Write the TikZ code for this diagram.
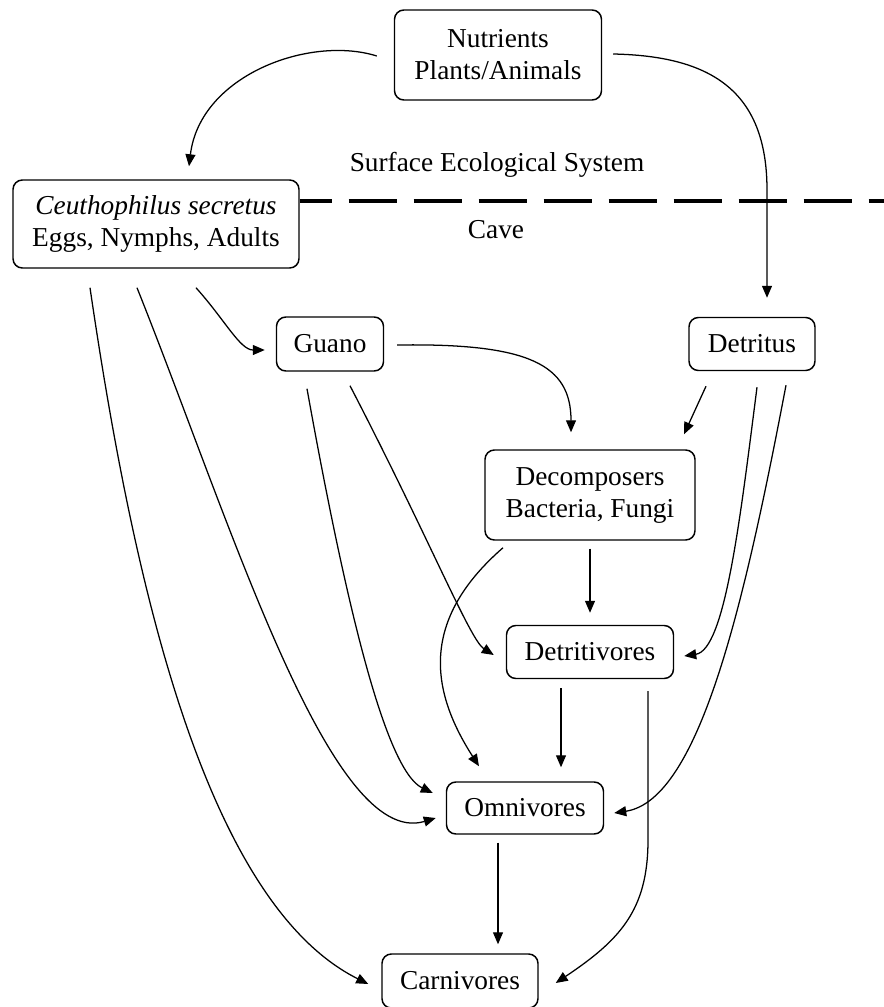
\documentclass[tikz,border=0pt]{standalone}
\usepackage{fontspec}
\setmainfont{Liberation Serif}
\usetikzlibrary{arrows.meta,calc}
\begin{document}
\begin{tikzpicture}[x=0.75pt,y=-0.75pt,
  box/.style={draw,line width=1.1pt,rounded corners=7pt,align=center,inner sep=0pt,
    font=\fontsize{20.5}{24}\selectfont},
  arr/.style={line width=0.95pt,-{Triangle[length=9pt,width=7.5pt]}},
  lbl/.style={font=\fontsize{20.5}{24}\selectfont},
  cavedash/.style={line width=3pt,dash pattern=on 36pt off 12.75pt,dash phase=12pt}]
\useasboundingbox (0,0) rectangle (884,1007);

\node[box,minimum width=155.25pt,minimum height=67.5pt] (nut) at (498,55) {Nutrients\\Plants/Animals};
\node[box,minimum width=214.5pt,minimum height=66pt] (ceu) at (156,224) {\textit{Ceuthophilus secretus}\\Eggs, Nymphs, Adults};
\node[box,minimum width=80.25pt,minimum height=40.5pt] (gua) at (330,344) {Guano};
\node[box,minimum width=94.5pt,minimum height=39.75pt] (det) at (752,344) {Detritus};
\node[box,minimum width=157.5pt,minimum height=67.5pt] (dec) at (590,495) {Decomposers\\Bacteria,\ Fungi};
\node[box,minimum width=125.25pt,minimum height=39.75pt] (dtv) at (590,652) {Detritivores};
\node[box,minimum width=117.75pt,minimum height=39pt] (omn) at (525,808) {Omnivores};
\node[box,minimum width=117pt,minimum height=40.5pt] (car) at (460,981) {Carnivores};

\node[lbl] (surf) at (497,165) {Surface Ecological System};
\node[lbl] (cave) at (496,230) {Cave};

\coordinate (dashend) at (884,201);
\draw[cavedash] ($(ceu.east)+(0,-23)$) -- (dashend);

% Nutrients
\draw[arr] ($(nut.west)+(-17,1)$) .. controls (310,35) and (200,75) .. ($(ceu.north)+(33,-13)$);
\draw[arr] ($(nut.east)+(11,-1)$) .. controls (710,56) and (767,90) .. (767,190) -- ($(det.north)+(15,-19)$);

% Ceuthophilus
\draw[arr] ($(ceu.south)+(40,19)$) .. controls (225,320) and (240,350) .. ($(gua.west)+(-11,6)$);
\draw[arr] ($(ceu.south)+(-19,19)$) .. controls (230,520) and (330,850) .. ($(omn.west)+(-10,10)$);
\draw[arr] ($(ceu.south)+(-66,19)$) .. controls (130,560) and (200,900) .. ($(car.west)+(-13,3)$);

% Guano
\draw[arr] ($(gua.east)+(13,1)$) .. controls (530,343) and (571,365) .. ($(dec.north)+(-19,-17)$);
\draw[arr] ($(gua.south)+(-23,17)$) .. controls (345,600) and (385,770) .. ($(omn.west)+(-13,-15)$);
\draw[arr] ($(gua.south)+(20,14)$) .. controls (430,540) and (470,640) .. ($(dtv.west)+(-12,3)$);

% Detritus
\draw[arr] ($(det.south)+(-46,15)$) -- ($(dec.north)+(94,-15)$);
\draw[arr] ($(det.south)+(5,16)$) .. controls (740,520) and (725,650) .. ($(dtv.east)+(10,4)$);
\draw[arr] ($(det.south)+(34,14)$) .. controls (745,600) and (700,800) .. ($(omn.east)+(10,5)$);

% Decomposers
\draw[arr] ($(dec.south)+(-87,7)$) .. controls (420,620) and (430,690) .. ($(omn.north)+(-46,-15)$);
\draw[arr] ($(dec.south)+(0,8)$) -- ($(dtv.north)+(0,-12)$);

% Detritivores
\draw[arr] ($(dtv.south)+(-29,9)$) -- ($(omn.north)+(36,-14)$);
\draw[arr] ($(dtv.south)+(58,12)$) -- (648,840) .. controls (648,910) and (620,940) .. ($(car.east)+(17,2)$);

% Omnivores
\draw[arr] ($(omn.south)+(-27,8)$) -- ($(car.north)+(38,-9)$);
\end{tikzpicture}
\end{document}
